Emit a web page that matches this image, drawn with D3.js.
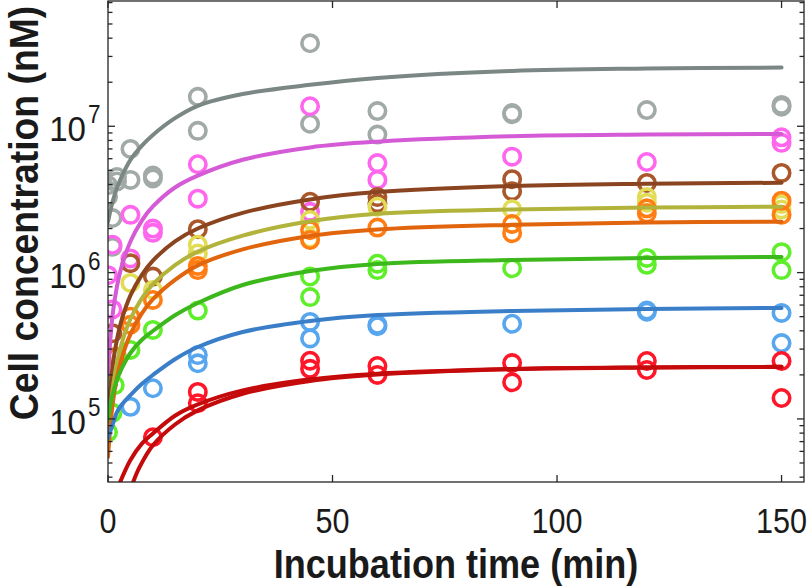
<!DOCTYPE html>
<html><head><meta charset="utf-8">
<script src="https://cdn.jsdelivr.net/npm/d3@7/dist/d3.min.js"></script>
<style>body{margin:0;background:#fff}</style></head>
<body><svg id="c" width="807" height="586"></svg>
<script>
// ---------- data ----------
const xTicks = [0, 50, 100, 150];
const yMajor = [1e5, 1e6, 1e7];
const xTitle = "Incubation time (min)";
const yTitle = "Cell concentration (nM)";

// fitted curves
const fitTimes  = [0, 1, 2, 3, 5, 7.5, 10, 15, 20, 30, 45, 60, 90, 120, 150];
const greyFit   = [2.22e6, 3.04e6, 3.79e6, 4.50e6, 5.89e6, 7.34e6, 8.72e6, 1.14e7, 1.38e7, 1.66e7, 1.92e7, 2.14e7, 2.39e7, 2.48e7, 2.52e7];
const pinkFit   = [2.0e5, 5.08e5, 8.04e5, 1.09e6, 1.63e6, 2.26e6, 2.83e6, 3.83e6, 4.60e6, 5.90e6, 7.17e6, 7.85e6, 8.55e6, 8.77e6, 8.85e6];
const brownFit  = [1.0e5, 2.27e5, 3.5e5, 4.7e5, 6.98e5, 9.62e5, 1.207e6, 1.64e6, 2.0e6, 2.56e6, 3.16e6, 3.55e6, 3.91e6, 4.05e6, 4.11e6];
const oliveFit  = [7.0e4, 1.57e5, 2.42e5, 3.25e5, 4.82e5, 6.64e5, 8.33e5, 1.13e6, 1.39e6, 1.79e6, 2.24e6, 2.52e6, 2.70e6, 2.78e6, 2.82e6];
const orangeFit = [5.5e4, 1.24e5, 1.91e5, 2.56e5, 3.80e5, 5.24e5, 6.58e5, 8.94e5, 1.12e6, 1.44e6, 1.78e6, 1.97e6, 2.12e6, 2.20e6, 2.23e6];
const greenFit  = [9.83e4, 1.457e5, 1.845e5, 2.194e5, 2.822e5, 3.463e5, 3.99e5, 5.13e5, 6.20e5, 8.23e5, 1.026e6, 1.145e6, 1.22e6, 1.258e6, 1.279e6];
const blueFit   = [7.4e4, 9.09e4, 1.115e5, 1.245e5, 1.457e5, 1.732e5, 1.996e5, 2.568e5, 3.10e5, 3.93e5, 4.67e5, 5.13e5, 5.47e5, 5.64e5, 5.73e5];
const redFitATimes = [2.7, 5, 7.5, 10, 15, 20, 30, 45, 60, 90, 120, 150];
const redFitA      = [3.7e4, 5.24e4, 6.75e4, 7.95e4, 1.055e5, 1.256e5, 1.566e5, 1.864e5, 2.038e5, 2.194e5, 2.249e5, 2.269e5];
const redFitBTimes = [5.6, 7, 10, 15, 20, 30, 45, 60, 90, 120, 150];
const redFitB      = [3.7e4, 4.66e4, 6.6e4, 9.2e4, 1.144e5, 1.487e5, 1.818e5, 2.011e5, 2.189e5, 2.247e5, 2.269e5];

// measured points [time, concentration]
const greyPts = [[0,3.96e6],[0,3.3e6],[1,2.36e6],[1,1.5e6],[2,4.5e6],[2,4.2e6],[5,7.0e6],[5,4.3e6],[10,4.6e6],[10,4.4e6],
  [20,1.59e7],[20,9.3e6],[45,3.69e7],[45,1.04e7],[60,1.27e7],[60,8.77e6],[90,1.23e7],[90,1.21e7],[120,1.29e7],[150,1.36e7],[150,1.40e7]];
const pinkPts = [[0,9.6e5],[1,1.55e6],[1,5.6e5],[5,2.48e6],[5,1.25e6],[10,2.0e6],[10,1.87e6],[20,5.5e6],[20,3.2e6],
  [45,1.37e7],[45,2.6e6],[60,5.6e6],[60,4.3e6],[90,6.2e6],[120,5.7e6],[150,8.4e6],[150,7.7e6]];
const brownPts = [[1,3.85e5],[1,2.2e5],[5,1.16e6],[10,9.4e5],[20,1.98e6],[45,3.05e6],[60,3.28e6],[60,2.98e6],
  [90,4.35e6],[90,3.6e6],[120,4.1e6],[150,4.8e6]];
const olivePts = [[0,2.3e5],[1,2.66e5],[5,8.5e5],[10,7.6e5],[20,1.55e6],[20,1.35e6],[45,2.29e6],[45,1.71e6],[60,2.82e6],
  [90,2.71e6],[120,3.28e6],[120,3.0e6],[150,2.94e6],[150,2.7e6]];
const orangePts = [[0,1.85e5],[0,1.75e5],[2,2.66e5],[5,5.0e5],[5,4.4e5],[10,6.5e5],[20,1.11e6],[20,1.04e6],[45,1.95e6],[45,1.67e6],
  [60,2.03e6],[90,2.15e6],[90,1.86e6],[120,2.54e6],[120,2.75e6],[150,2.48e6],[150,3.1e6]];
const greenPts = [[0,8.1e4],[1,1.1e5],[1.5,1.7e5],[5,2.96e5],[10,4.06e5],[20,5.5e5],[45,9.4e5],[45,6.8e5],[60,1.15e6],[60,1.04e6],
  [90,1.07e6],[120,1.26e6],[120,1.13e6],[150,1.38e6],[150,1.04e6]];
const bluePts = [[5,1.21e5],[10,1.62e5],[20,2.73e5],[20,2.4e5],[45,4.6e5],[45,3.55e5],[60,4.4e5],[60,4.3e5],[90,4.47e5],
  [120,5.4e5],[120,5.5e5],[150,5.3e5],[150,3.3e5]];
const redPts = [[10,7.5e4],[20,1.53e5],[20,1.28e5],[45,2.5e5],[45,2.2e5],[60,2.3e5],[60,2.0e5],[90,2.41e5],[90,1.78e5],
  [120,2.49e5],[120,2.16e5],[150,2.49e5],[150,1.39e5]];

// ---------- chart ----------
const M = {left:108, right:804, top:1, bottom:482};
const svg = d3.select("#c");
const x = d3.scaleLinear().domain([0,155]).range([M.left, M.right]);
const y = d3.scaleLog().domain([Math.pow(10,4.569), Math.pow(10,7.856)]).range([M.bottom, M.top]);

svg.append("defs").append("clipPath").attr("id","clip")
  .append("rect").attr("x",M.left).attr("y",M.top).attr("width",M.right-M.left).attr("height",M.bottom-M.top);

const series = [
  {pts:greyPts,   fitT:fitTimes, fit:greyFit,   pc:"#a2aaa8", lc:"#7b8785"},
  {pts:pinkPts,   fitT:fitTimes, fit:pinkFit,   pc:"#ff66ee", lc:"#d45ad6"},
  {pts:brownPts,  fitT:fitTimes, fit:brownFit,  pc:"#a9572b", lc:"#8a4520"},
  {pts:olivePts,  fitT:fitTimes, fit:oliveFit,  pc:"#e2dc55", lc:"#b2b33a"},
  {pts:orangePts, fitT:fitTimes, fit:orangeFit, pc:"#ff7d14", lc:"#e0650c"},
  {pts:greenPts,  fitT:fitTimes, fit:greenFit,  pc:"#5eef2a", lc:"#3db81c"},
  {pts:bluePts,   fitT:fitTimes, fit:blueFit,   pc:"#58a6ee", lc:"#3a7ec8"},
  {pts:redPts,    fitT:redFitATimes, fit:redFitA, pc:"#ff1628", lc:"#c40a0a", fit2T:redFitBTimes, fit2:redFitB}
];

const line = d3.line().x(d=>x(d[0])).y(d=>y(d[1])).curve(d3.curveCatmullRom.alpha(0.5));
const g = svg.append("g").attr("clip-path","url(#clip)");

series.forEach(s=>{
  g.selectAll(null).data(s.pts).enter().append("circle")
    .attr("cx",d=>x(d[0])).attr("cy",d=>y(d[1])).attr("r",8.2)
    .attr("fill","none").attr("stroke",s.pc).attr("stroke-width",3.6);
});
series.forEach(s=>{
  const d1 = s.fitT.map((t,i)=>[t,s.fit[i]]);
  g.append("path").attr("d",line(d1)).attr("fill","none").attr("stroke",s.lc).attr("stroke-width",4).attr("stroke-linecap","round");
  if (s.fit2){
    const d2 = s.fit2T.map((t,i)=>[t,s.fit2[i]]);
    g.append("path").attr("d",line(d2)).attr("fill","none").attr("stroke",s.lc).attr("stroke-width",4).attr("stroke-linecap","round");
  }
});

// axes box
const ax = svg.append("g").attr("stroke","#262626").attr("stroke-width",1.3).attr("fill","none");
ax.append("rect").attr("x",M.left).attr("y",M.top).attr("width",M.right-M.left).attr("height",M.bottom-M.top);
xTicks.forEach(t=>{
  ax.append("line").attr("x1",x(t)).attr("x2",x(t)).attr("y1",M.bottom).attr("y2",M.bottom-7);
  ax.append("line").attr("x1",x(t)).attr("x2",x(t)).attr("y1",M.top).attr("y2",M.top+7);
});
const [ylo, yhi] = y.domain();
for (let e=4; e<=7; e++){
  for (let m=1; m<=9; m++){
    const v = m*Math.pow(10,e);
    if (v<ylo || v>yhi) continue;
    const len = (m===1)?7:4.5;
    ax.append("line").attr("x1",M.left).attr("x2",M.left+len).attr("y1",y(v)).attr("y2",y(v));
    ax.append("line").attr("x1",M.right).attr("x2",M.right-len).attr("y1",y(v)).attr("y2",y(v));
  }
}

const font = "'Liberation Sans', Arial, Helvetica, sans-serif";
xTicks.forEach(t=>{
  svg.append("text").attr("transform",`translate(${x(t)},533) scale(0.85,1)`)
    .attr("text-anchor","middle").attr("font-family",font).attr("font-size",36).attr("fill","#1a1a1a").text(d3.format("d")(t));
});
yMajor.forEach(v=>{
  svg.append("text").attr("transform",`translate(86,${y(v)+15}) scale(0.92,1)`)
    .attr("text-anchor","end").attr("font-family",font).attr("font-size",36).attr("fill","#1a1a1a").text("10");
  svg.append("text").attr("transform",`translate(88,${y(v)-3}) scale(0.9,1)`)
    .attr("text-anchor","start").attr("font-family",font).attr("font-size",25).attr("fill","#1a1a1a")
    .text(String(Math.round(Math.log10(v))));
});
svg.append("text").attr("transform",`translate(456,578) scale(0.88,1)`).attr("text-anchor","middle")
  .attr("font-family",font).attr("font-weight","bold").attr("font-size",41).attr("fill","#1a1a1a").text(xTitle);
svg.append("text").attr("transform",`translate(38,213) rotate(-90) scale(0.91,1)`).attr("text-anchor","middle")
  .attr("font-family",font).attr("font-weight","bold").attr("font-size",41).attr("fill","#1a1a1a").text(yTitle);
</script></body></html>
